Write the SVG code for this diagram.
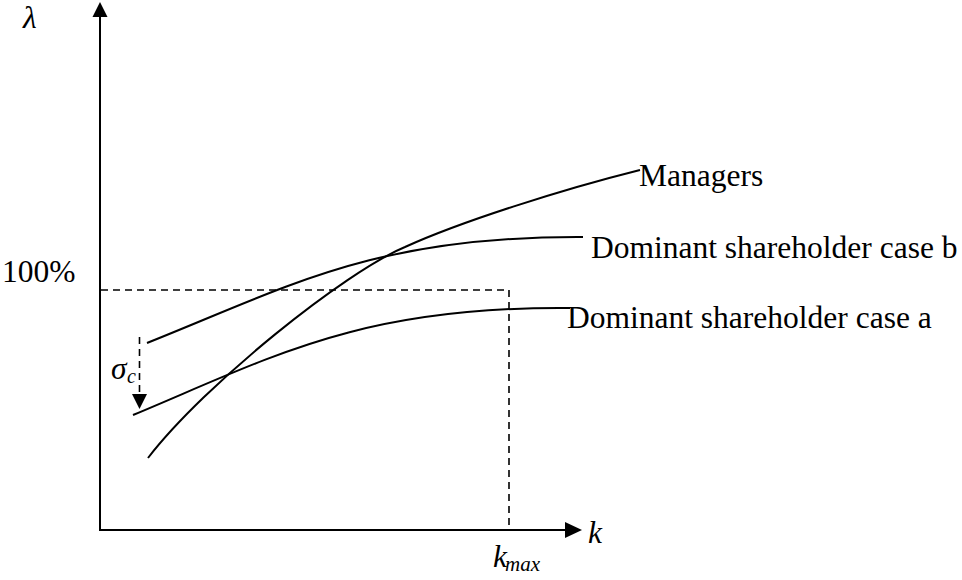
<svg xmlns="http://www.w3.org/2000/svg" width="962" height="580" viewBox="0 0 962 580">
<style>
.ax{stroke:#000;stroke-width:2;fill:none}
.cv{stroke:#000;stroke-width:2;fill:none}
.dash{stroke:#000;stroke-width:1.6;fill:none;stroke-dasharray:7 5}
.t{font-family:"Liberation Serif","Times New Roman",serif;font-size:31.5px;fill:#000}
.i{font-style:italic}
</style>
<rect width="962" height="580" fill="#fff"/>
<g id="axes">
<line class="ax" x1="100" y1="530" x2="100" y2="15"/>
<polygon points="100,2 92.5,17 107.5,17" fill="#000"/>
<line class="ax" x1="99" y1="530" x2="567" y2="530"/>
<polygon points="582,530 565,522 565,538" fill="#000"/>
</g>
<g id="guides">
<polyline class="dash" points="101,290 509,290 509,530"/>
</g>
<g id="connectors">
<path id="managers-curve" class="cv" d="M148,458 C205,384 345,272 405,247 C460,222 560,190 640,170"/>
<path id="case-b-curve" class="cv" d="M147,343 C290,286 375,236 583,237"/>
<path id="case-a-curve" class="cv" d="M133,415 C270,358 360,306 570,308"/>
<line class="dash" x1="139.5" y1="337" x2="139.5" y2="395" stroke-dasharray="6 5"/>
<polygon points="132,394 147,394 139.5,409" fill="#000"/>
</g>
<g id="labels">
<text class="t i" x="23" y="28">λ</text>
<text class="t" x="2" y="282">100%</text>
<text class="t i" x="588" y="543">k</text>
<text class="t i" x="493" y="567" font-size="26">k<tspan font-size="21" x="505" y="571">max</tspan></text>
<text class="t i" x="111" y="379" font-size="30">σ<tspan font-size="20" x="127" y="383">c</tspan></text>
<text id="managers" class="t" x="639" y="186">Managers</text>
<text id="case-b" class="t" x="591" y="258">Dominant shareholder case b</text>
<text id="case-a" class="t" x="567" y="328">Dominant shareholder case a</text>
</g>
</svg>
